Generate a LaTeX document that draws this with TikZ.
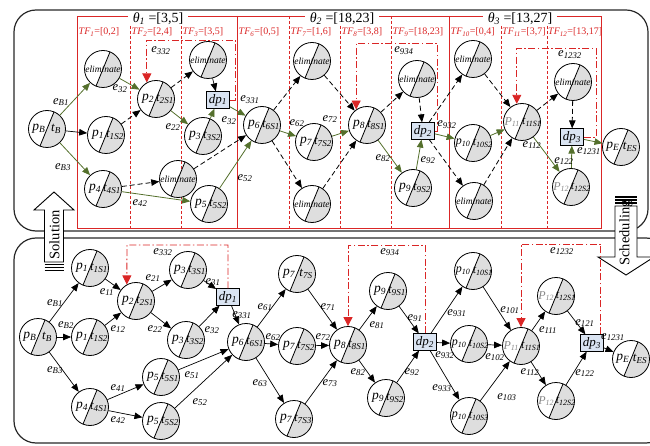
\documentclass[tikz,border=0pt]{standalone}
\usepackage{fontspec}
\setmainfont{Liberation Serif}
\usetikzlibrary{arrows.meta}
\definecolor{egreen}{RGB}{84,112,44}
\definecolor{ered}{RGB}{218,38,38}
\definecolor{gfill}{RGB}{222,222,222}
\definecolor{dpfill}{RGB}{218,228,242}
\definecolor{pgray}{RGB}{135,135,135}
\definecolor{panel}{RGB}{40,40,40}
\newcommand{\sbs}[1]{\textsubscript{#1}}
\tikzset{
  pn/.style={circle, draw, line width=0.8pt, minimum size=37pt, inner sep=0pt,
    path picture={
      \fill[gfill] ([shift={(-9,22)}]path picture bounding box.center) -- ([shift={(9,-22)}]path picture bounding box.center) -- ([shift={(30,-22)}]path picture bounding box.center) -- ([shift={(30,22)}]path picture bounding box.center) -- cycle;
      \draw[line width=0.8pt] ([shift={(-9,22)}]path picture bounding box.center) -- ([shift={(9,-22)}]path picture bounding box.center);
    }},
  ptx/.style={inner sep=0pt, font=\fontsize{13.5}{14}\selectfont\itshape},
  ttx/.style={inner sep=0pt, font=\fontsize{13}{14}\selectfont\itshape},
  ptw/.style={inner sep=0pt, font=\fontsize{12}{13}\selectfont\itshape},
  eltx/.style={inner sep=0pt, font=\fontsize{9.5}{10}\selectfont\itshape},
  dpb/.style={draw, fill=dpfill, line width=0.7pt, minimum width=23pt, minimum height=16.5pt, inner sep=0pt, font=\fontsize{13}{13}\selectfont\itshape},
  gar/.style={draw=egreen, line width=0.8pt, -{Triangle[length=8pt,width=6.5pt]}},
  dar/.style={draw=black, line width=0.8pt, dash pattern=on 5pt off 3pt, -{Triangle[length=8pt,width=6.5pt]}},
  sar/.style={draw=black, line width=0.7pt, -{Triangle[length=8pt,width=6.5pt]}},
  rar/.style={draw=ered, line width=0.9pt, dash pattern=on 7pt off 2.5pt on 1.5pt off 2.5pt, -{Triangle[length=9pt,width=9pt]}},
  elab/.style={inner sep=0pt, font=\fontsize{12.5}{13}\selectfont\itshape},
  tfl/.style={inner sep=0pt, anchor=west, text=ered, font=\fontsize{10}{11}\selectfont},
  thl/.style={fill=white, inner xsep=5pt, inner ysep=0pt, font=\fontsize{14}{14}\selectfont},
  blk/.style={inner sep=0pt, rotate=90, font=\fontsize{14.5}{15}\selectfont}
}
\newcommand{\mkp}[5]{\node[pn] (#1) at (#2,#3) {};
  \node[ptx] (#1l) at ([xshift=-8pt]#1.center) {#4};
  \node[ttx] (#1r) at ([xshift=9pt]#1.center) {#5};}
\newcommand{\mkw}[5]{\node[pn] (#1) at (#2,#3) {};
  \node[ptw] (#1l) at ([xshift=-9.8pt]#1.center) {#4};
  \node[ptw] (#1r) at ([xshift=9.8pt]#1.center) {#5};}
\newcommand{\mke}[3]{\node[pn] (#1) at (#2,#3) {};
  \node[eltx] (#1t) at (#1.center) {eliminate};}
\newcommand{\mkl}[4]{\node[elab] (#1) at (#2,#3) {e\sbs{#4}};}
\begin{document}
\begin{tikzpicture}[x=1pt,y=-1pt]
\useasboundingbox (0,0) rectangle (650,446);
% panels
\draw[panel, line width=1.2pt, rounded corners=22pt] (14,10) rectangle (648,231);
\draw[panel, line width=1.2pt, rounded corners=22pt] (14,238) rectangle (668,443);
% red frame
\draw[ered, line width=0.9pt] (77,16) rectangle (601,228);
\draw[ered, line width=0.9pt] (237,16) -- (237,228);
\draw[ered, line width=0.9pt] (449,16) -- (449,228);
\foreach \xx in {130,181,289,340,391,501,547}
  \draw[ered, line width=0.7pt, dash pattern=on 3pt off 2pt] (\xx,16) -- (\xx,228);
\node[thl] (th1) at (158,19) {{\itshape θ\sbs{1}} =[3,5]};
\node[thl] (th2) at (342,19) {{\itshape θ\sbs{2}} =[18,23]};
\node[thl] (th3) at (520,19) {{\itshape θ\sbs{3}} =[13,27]};
\node[tfl] (tf1) at (78.5,32) {{\itshape TF\sbs{1}}=[0,2]};
\node[tfl] (tf2) at (131.5,32) {{\itshape TF\sbs{2}}=[2,4]};
\node[tfl] (tf3) at (182.5,32) {{\itshape TF\sbs{3}}=[3,5]};
\node[tfl] (tf6) at (238.5,32) {{\itshape TF\sbs{6}}=[0,5]};
\node[tfl] (tf7) at (290.5,32) {{\itshape TF\sbs{7}}=[1,6]};
\node[tfl] (tf8) at (341.5,32) {{\itshape TF\sbs{8}}=[3,8]};
\node[tfl] (tf9) at (392.5,32) {{\itshape TF\sbs{9}}=[18,23]};
\node[tfl] (tf10) at (450.5,32) {{\itshape TF\sbs{10}}=[0,4]};
\node[tfl] (tf11) at (502,32) {{\itshape TF\sbs{11}}=[3,7]};
\node[tfl] (tf12) at (548,32) {{\itshape TF\sbs{12}}=[13,17]};
% block arrows
\draw[fill=white, line width=0.9pt] (54,192) -- (74,210) -- (63.5,210) -- (63.5,262) -- (44.5,262) -- (44.5,210) -- (34,210) -- cycle;
\foreach \yy in {264.5,267.5,270.5} \draw[line width=1.4pt] (44.5,\yy) -- (63.5,\yy);
\node[blk] (soltx) at (54.5,235) {Solution};
\draw[fill=white, line width=0.9pt] (626,275) -- (654,257) -- (637,257) -- (637,206) -- (615,206) -- (615,257) -- (598,257) -- cycle;
\foreach \yy in {197,200,203} \draw[line width=1.4pt] (615,\yy) -- (637,\yy);
\node[blk] (schtx) at (626,233) {Scheduling};
% ---------- top nodes
\mkp{tB}{47}{129}{p\sbs{B}}{t\sbs{B}}
\mke{tE1}{103}{69}
\mkp{t1}{106}{135}{p\sbs{1}}{t\sbs{1S2}}
\mkp{t4}{103}{189}{p\sbs{4}}{t\sbs{4S1}}
\mkp{t2}{156}{99}{p\sbs{2}}{t\sbs{2S1}}
\mke{tE3}{208}{60}
\node[dpb] (tdp1) at (218,100) {dp\sbs{1}};
\mkp{t3}{203}{136}{p\sbs{3}}{t\sbs{3S2}}
\mke{tEm}{178}{179}
\mkp{t5}{209}{204}{p\sbs{5}}{t\sbs{5S2}}
\mkp{t6}{262}{125}{p\sbs{6}}{t\sbs{6S1}}
\mkp{t7}{314}{142}{p\sbs{7}}{t\sbs{7S2}}
\mke{tE7a}{312}{61}
\mke{tE7b}{312}{204}
\mkp{t8}{367}{125}{p\sbs{8}}{t\sbs{8S1}}
\mkp{t9}{413}{188}{p\sbs{9}}{t\sbs{9S2}}
\node[dpb] (tdp2) at (423,131) {dp\sbs{2}};
\mke{tE9}{417}{79}
\mkw{t10}{473}{143}{p\sbs{10}}{t\sbs{10S2}}
\mke{tE10a}{473}{59}
\mke{tE10b}{474}{201}
\mkw{t11}{522}{122}{\textcolor{pgray}{P\sbs{11}}}{t\sbs{11S1}}
\mke{tE12}{573}{82}
\node[dpb] (tdp3) at (572,137) {dp\sbs{3}};
\mkw{t12}{571}{187}{\textcolor{pgray}{P\sbs{12}}}{t\sbs{12S2}}
\mkp{tEnd}{621}{147}{p\sbs{E}}{t\sbs{ES}}
% top edges
\draw[gar] (tB) -- (tE1);
\draw[sar] (tB) -- (t1);
\draw[gar] (tB) -- (t4);
\draw[gar] (tE1) -- (t2);
\draw[dar] (t1) -- (t2);
\draw[dar] (t2) -- (tE3);
\draw[gar] (t2) -- (t3);
\draw[sar] (tE3) -- (tdp1);
\draw[gar] (t3) -- (tdp1);
\draw[dar] (t4) -- (tEm);
\draw[gar] (t4) -- (t5);
\draw[dar] (tEm) -- (t6);
\draw[gar] (t5) -- (t6);
\draw[gar] (tdp1) -- (t6);
\draw[dar] (t6) -- (tE7a);
\draw[gar] (t6) -- (t7);
\draw[dar] (t6) -- (tE7b);
\draw[dar] (tE7a) -- (t8);
\draw[gar] (t7) -- (t8);
\draw[dar] (tE7b) -- (t8);
\draw[dar] (t8) -- (tE9);
\draw[gar] (t8) -- (t9);
\draw[dar] (tE9) -- (tdp2);
\draw[gar] (t9) -- (tdp2);
\draw[gar] (tdp2) -- (t10);
\draw[dar] (tdp2) -- (tE10a);
\draw[dar] (tdp2) -- (tE10b);
\draw[dar] (tE10a) -- (t11);
\draw[gar] (t10) -- (t11);
\draw[dar] (tE10b) -- (t11);
\draw[dar] (t11) -- (tE12);
\draw[gar] (t11) -- (t12);
\draw[dar] (tE12) -- (tdp3);
\draw[gar] (t12) -- (tdp3);
\draw[gar] (tdp3) -- (tEnd);
\coordinate (r1a) at (235,40);
\coordinate (r2a) at (437,43);
\coordinate (r3a) at (596,48);
\draw[rar] (tdp1.east) -| (r1a) -| (t2.119);
\draw[rar] (tdp2.east) -| (r2a) -| (t8.125);
\draw[rar] (tdp3.east) -| (r3a) -| (t11.106);
% top labels
\mkl{lt1}{61}{102}{B1}
\mkl{lt2}{63}{167}{B3}
\mkl{lt3}{120}{89}{32}
\mkl{lt4}{161}{51}{332}
\mkl{lt5}{173}{127}{22}
\mkl{lt6}{229}{121}{32}
\mkl{lt7}{140}{203}{42}
\mkl{lt8}{245}{178}{52}
\mkl{lt9}{250}{100}{331}
\mkl{lt10}{297}{123}{62}
\mkl{lt11}{330}{119}{72}
\mkl{lt12}{383}{158}{82}
\mkl{lt13}{428}{160}{92}
\mkl{lt14}{447}{125}{932}
\mkl{lt15}{404}{51}{934}
\mkl{lt16}{532}{145}{112}
\mkl{lt17}{564}{161}{122}
\mkl{lt18}{589}{151}{1231}
\mkl{lt19}{570}{55}{1232}
% ---------- bottom nodes
\mkp{bB}{38}{337}{p\sbs{B}}{t\sbs{B}}
\mkp{b1a}{90}{268}{p\sbs{1}}{t\sbs{1S1}}
\mkp{b1b}{90}{337}{p\sbs{1}}{t\sbs{1S2}}
\mkp{b2}{136}{301}{p\sbs{2}}{t\sbs{2S1}}
\mkp{b3a}{188}{270}{p\sbs{3}}{t\sbs{3S1}}
\mkp{b3b}{186}{340}{p\sbs{3}}{t\sbs{3S2}}
\node[dpb] (bdp1) at (228,297) {dp\sbs{1}};
\mkp{b4}{90}{407}{p\sbs{4}}{t\sbs{4S1}}
\mkp{b5a}{161}{377}{p\sbs{5}}{t\sbs{5S1}}
\mkp{b5b}{161}{421}{p\sbs{5}}{t\sbs{5S2}}
\mkp{b6}{246}{342}{p\sbs{6}}{t\sbs{6S1}}
\mkp{b7a}{297}{274}{p\sbs{7}}{t\sbs{7S}}
\mkp{b7b}{297}{346}{p\sbs{7}}{t\sbs{7S2}}
\mkp{b7c}{294}{419}{p\sbs{7}}{t\sbs{7S3}}
\mkp{b8}{348}{345}{p\sbs{8}}{t\sbs{8S1}}
\mkp{b9a}{388}{291}{p\sbs{9}}{t\sbs{9S1}}
\mkp{b9b}{386}{398}{p\sbs{9}}{t\sbs{9S2}}
\node[dpb] (bdp2) at (425,342) {dp\sbs{2}};
\mkw{b10a}{473}{271}{p\sbs{10}}{t\sbs{10S1}}
\mkw{b10b}{469}{344}{p\sbs{10}}{t\sbs{10S2}}
\mkw{b10c}{469}{416}{p\sbs{10}}{t\sbs{10S3}}
\mkw{b11}{521}{346}{\textcolor{pgray}{P\sbs{11}}}{t\sbs{11S1}}
\mkw{b12a}{556}{296}{\textcolor{pgray}{P\sbs{12}}}{t\sbs{12S1}}
\mkw{b12b}{556}{401}{\textcolor{pgray}{P\sbs{12}}}{t\sbs{12S2}}
\node[dpb] (bdp3) at (592,343) {dp\sbs{3}};
\mkp{bEnd}{631}{359}{p\sbs{E}}{t\sbs{ES}}
% bottom edges
\draw[sar] (bB) -- (b1a);
\draw[sar] (bB) -- (b1b);
\draw[sar] (bB) -- (b4);
\draw[sar] (b1a) -- (b2);
\draw[sar] (b1b) -- (b2);
\draw[sar] (b2) -- (b3a);
\draw[sar] (b2) -- (b3b);
\draw[sar] (b3a) -- (bdp1);
\draw[sar] (b3b) -- (bdp1);
\draw[sar] (b4) -- (b5a);
\draw[sar] (b4) -- (b5b);
\draw[sar] (b5a) -- (b6);
\draw[sar] (b5b) -- (b6);
\draw[sar] (bdp1) -- (b6);
\draw[sar] (b6) -- (b7a);
\draw[sar] (b6) -- (b7b);
\draw[sar] (b6) -- (b7c);
\draw[sar] (b7a) -- (b8);
\draw[sar] (b7b) -- (b8);
\draw[sar] (b7c) -- (b8);
\draw[sar] (b8) -- (b9a);
\draw[sar] (b8) -- (b9b);
\draw[sar] (b9a) -- (bdp2);
\draw[sar] (b9b) -- (bdp2);
\draw[sar] (bdp2) -- (b10a);
\draw[sar] (bdp2) -- (b10b);
\draw[sar] (bdp2) -- (b10c);
\draw[sar] (b10a) -- (b11);
\draw[sar] (b10b) -- (b11);
\draw[sar] (b10c) -- (b11);
\draw[sar] (b11) -- (b12a);
\draw[sar] (b11) -- (b12b);
\draw[sar] (b12a) -- (bdp3);
\draw[sar] (b12b) -- (bdp3);
\draw[sar] (bdp3) -- (bEnd);
\coordinate (r4a) at (127,245);
\coordinate (r5a) at (348,245);
\coordinate (r6a) at (521,244);
\draw[rar] (bdp1.north) |- (r4a) -- (b2.119);
\draw[rar] (bdp2.north) |- (r5a) -- (b8.north);
\draw[rar] ([xshift=-3pt]bdp3.north east) |- (r6a) -- (b11.north);
% bottom labels
\mkl{lb1}{55}{303}{B1}
\mkl{lb2}{66}{325}{B2}
\mkl{lb3}{55}{370}{B3}
\mkl{lb4}{107}{292}{11}
\mkl{lb5}{118}{329}{12}
\mkl{lb6}{153}{278}{21}
\mkl{lb7}{155}{329}{22}
\mkl{lb8}{213}{282}{31}
\mkl{lb9}{212}{330}{32}
\mkl{lb10}{163}{252}{332}
\mkl{lb11}{118}{388}{41}
\mkl{lb12}{118}{420}{42}
\mkl{lb13}{192}{375}{51}
\mkl{lb14}{200}{402}{52}
\mkl{lb15}{242}{315}{331}
\mkl{lb16}{265}{307}{61}
\mkl{lb17}{273}{337}{62}
\mkl{lb18}{260}{383}{63}
\mkl{lb19}{328}{307}{71}
\mkl{lb20}{323}{337}{72}
\mkl{lb21}{330}{383}{73}
\mkl{lb22}{377}{325}{81}
\mkl{lb23}{358}{372}{82}
\mkl{lb24}{390}{252}{934}
\mkl{lb25}{415}{318}{91}
\mkl{lb26}{412}{372}{92}
\mkl{lb27}{457}{313}{931}
\mkl{lb28}{445}{355}{932}
\mkl{lb29}{442}{388}{933}
\mkl{lb30}{510}{310}{101}
\mkl{lb31}{495}{357}{102}
\mkl{lb32}{507}{397}{103}
\mkl{lb33}{548}{330}{111}
\mkl{lb34}{530}{372}{112}
\mkl{lb35}{585}{323}{121}
\mkl{lb36}{585}{373}{122}
\mkl{lb37}{613}{337}{1231}
\mkl{lb38}{562}{251}{1232}
\end{tikzpicture}
\end{document}
